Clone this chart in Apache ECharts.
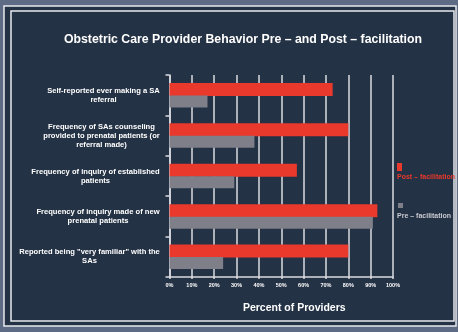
<!DOCTYPE html>
<html>
<head>
<meta charset="utf-8">
<script src="https://cdn.jsdelivr.net/npm/echarts@6/dist/echarts.min.js"></script>
<style>
  html, body { margin: 0; padding: 0; background: #5d6b84; }
  #chart { width: 458px; height: 332px; }
</style>
</head>
<body>
<div id="chart"></div>
<script>
// Survey items, top to bottom
const categories = [
  'Self-reported ever making a SA\nreferral',
  'Frequency of SAs counseling\nprovided to prenatal patients (or\nreferral made)',
  'Frequency of inquiry of established\npatients',
  'Frequency of inquiry made of new\nprenatal patients',
  'Reported being "very familiar" with the\nSAs'
];
// Percent of providers
const postValues = [73, 80, 57, 93, 80];
const preValues = [17, 38, 29, 91, 24];
const seriesNames = ['Post \u2013 facilitation', 'Pre \u2013 facilitation'];
const xTicks = [0, 10, 20, 30, 40, 50, 60, 70, 80, 90, 100];

const RED = '#e8392c';
const GRAY = '#7e7f89';
const NAVY = '#243245';
const LINE = '#d9dbe0';
const FONT = '"Liberation Sans", "DejaVu Sans", sans-serif';
const LABEL_SIZE = 7.6;

// Category labels: lines centred within a block as wide as the longest line,
// the block itself sitting flush against the axis.
const measure = document.createElement('canvas').getContext('2d');
measure.font = 'bold ' + LABEL_SIZE + 'px ' + FONT;
const labelRich = {};
categories.forEach((c, i) => {
  const w = Math.max(...c.split('\n').map(l => measure.measureText(l).width));
  labelRich['c' + i] = { width: Math.ceil(w) + 1, align: 'center', color: '#ffffff', fontFamily: FONT,
                         fontWeight: 'bold', fontSize: LABEL_SIZE, lineHeight: 9 };
});

const chart = echarts.init(document.getElementById('chart'), null, { renderer: 'canvas' });

chart.setOption({
  backgroundColor: '#5d6b84',
  animation: false,
  title: {
    text: 'Obstetric Care Provider Behavior Pre \u2013 and Post \u2013 facilitation',
    left: 238, top: 29, textAlign: 'center',
    textStyle: { color: '#ffffff', fontFamily: FONT, fontWeight: 'bold', fontSize: 12.3 }
  },
  grid: { left: 169.5, top: 75, width: 223.5, height: 202, containLabel: false },
  xAxis: {
    type: 'value', min: xTicks[0], max: xTicks[xTicks.length - 1], interval: 10,
    name: 'Percent of Providers', nameLocation: 'middle', nameGap: 26,
    nameTextStyle: { color: '#ffffff', fontFamily: FONT, fontWeight: 'bold', fontSize: 10.5, padding: [0, 0, 0, 26] },
    axisLine: { show: true, lineStyle: { color: LINE, width: 1.5 } },
    axisTick: { show: true, length: 2, lineStyle: { color: LINE, width: 1.5 } },
    axisLabel: { color: '#ffffff', fontFamily: FONT, fontWeight: 'bold', fontSize: 5.5, margin: 5,
                 formatter: v => v + '%' },
    splitLine: { show: true, lineStyle: { color: LINE, width: 1.5 } }
  },
  yAxis: {
    type: 'category', data: categories, inverse: true,
    axisLine: { show: true, lineStyle: { color: LINE, width: 1.5 } },
    axisTick: { show: true, length: 4, lineStyle: { color: LINE, width: 1.5 } },
    axisLabel: {
      color: '#ffffff', fontFamily: FONT, fontWeight: 'bold', fontSize: LABEL_SIZE, lineHeight: 9, margin: 9,
      formatter: (v, i) => v.split('\n').map(l => '{c' + i + '|' + l + '}').join('\n'),
      rich: labelRich
    }
  },
  series: [
    { name: seriesNames[0], type: 'bar', data: postValues, barWidth: 13, barGap: '-4%',
      itemStyle: { color: RED } },
    { name: seriesNames[1], type: 'bar', data: preValues, barWidth: 12,
      itemStyle: { color: GRAY } }
  ],
  graphic: [
    // Framed panel
    { type: 'rect', shape: { x: 4, y: 6, width: 452, height: 320 },
      style: { fill: NAVY, stroke: '#e8eaee', lineWidth: 1.5 }, z: -10 },
    { type: 'rect', shape: { x: 11, y: 11, width: 443, height: 310 },
      style: { fill: 'none', stroke: '#e8eaee', lineWidth: 1.5 }, z: -9 },
    // Legend
    { type: 'rect', shape: { x: 397, y: 163, width: 5, height: 8 }, style: { fill: RED } },
    { type: 'text', x: 397, y: 174, style: { text: seriesNames[0], fill: RED, font: 'bold 7px ' + FONT } },
    { type: 'rect', shape: { x: 398, y: 203, width: 5, height: 5 }, style: { fill: GRAY } },
    { type: 'text', x: 397, y: 213, style: { text: seriesNames[1], fill: '#c9cad0', font: 'bold 7px ' + FONT } }
  ]
});
</script>
</body>
</html>
